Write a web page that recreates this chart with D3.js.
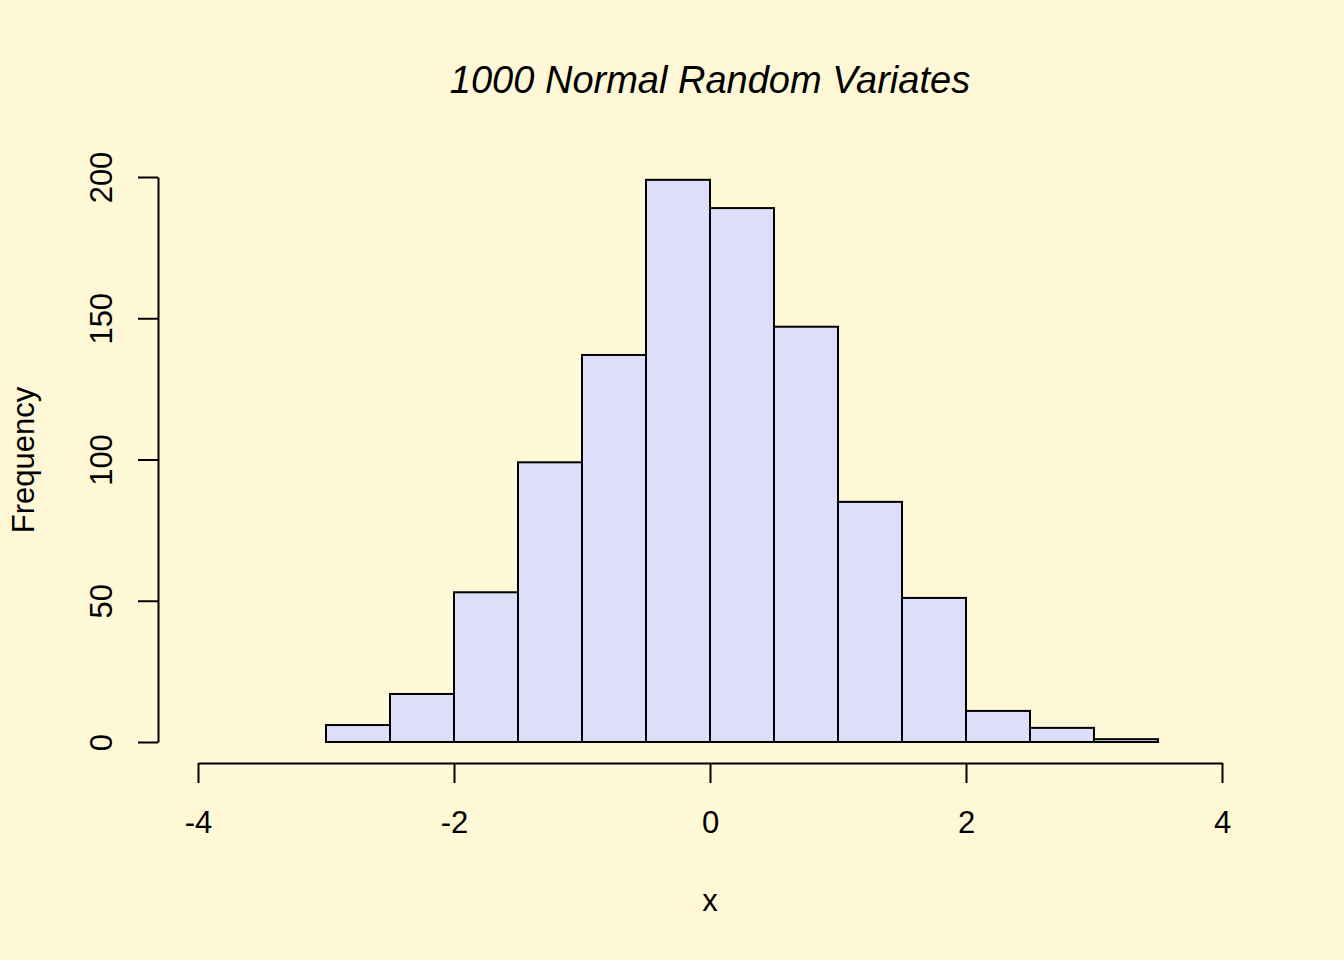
<!DOCTYPE html>
<html>
<head>
<meta charset="utf-8">
<script src="https://cdn.jsdelivr.net/npm/d3@7"></script>
<style>
  html, body { margin: 0; padding: 0; background: #FFF8D7; }
  svg { display: block; }
  text { font-family: "Liberation Sans", Arial, sans-serif; fill: #000; }
</style>
</head>
<body>
<svg id="chart" width="1344" height="960"></svg>
<script>
// Histogram bins (breaks) and counts
const binStarts = [-3, -2.5, -2, -1.5, -1, -0.5, 0, 0.5, 1, 1.5, 2, 2.5, 3];
const binWidth = 0.5;
const counts = [6, 17, 53, 99, 137, 199, 189, 147, 85, 51, 11, 5, 1];
const xTicks = [-4, -2, 0, 2, 4];
const yTicks = [0, 50, 100, 150, 200];
const titleText = "1000 Normal Random Variates";
const xLabel = "x";
const yLabel = "Frequency";

const svg = d3.select("#chart");
svg.append("rect").attr("width", 1344).attr("height", 960).attr("fill", "#FFF8D7");

const x = d3.scaleLinear().domain([-4, 4]).range([198, 1222]);
const y = d3.scaleLinear().domain([0, 200]).range([742, 177]);

const bins = binStarts.map((s, i) => ({ x0: s, x1: s + binWidth, n: counts[i] }));

svg.append("g").selectAll("rect").data(bins).join("rect")
  .attr("x", d => x(d.x0))
  .attr("y", d => y(d.n))
  .attr("width", d => x(d.x1) - x(d.x0))
  .attr("height", d => y(0) - y(d.n))
  .attr("fill", "#DDDEF9")
  .attr("stroke", "#000")
  .attr("stroke-width", 2);

// X axis
const xAxis = svg.append("g").attr("transform", "translate(0,763)")
  .call(d3.axisBottom(x).tickValues(xTicks).tickSizeInner(20).tickSizeOuter(0).tickFormat(d3.format("d")));
xAxis.select(".domain").attr("stroke", "#000").attr("stroke-width", 2);
xAxis.selectAll(".tick line").attr("stroke", "#000").attr("stroke-width", 2);
xAxis.selectAll(".tick text")
  .attr("y", 70).attr("dy", null)
  .style("font-size", "31px")
  .style("font-family", "'Liberation Sans', Arial, sans-serif")
  .text(d => d < 0 ? "-" + Math.abs(d) : String(d));

// Y axis
const yAxis = svg.append("g").attr("transform", "translate(158,0)")
  .call(d3.axisLeft(y).tickValues(yTicks).tickSizeInner(20).tickSizeOuter(0));
yAxis.select(".domain").attr("stroke", "#000").attr("stroke-width", 2);
yAxis.selectAll(".tick line").attr("stroke", "#000").attr("stroke-width", 2);
yAxis.selectAll(".tick text").remove();
yAxis.selectAll(".tick").append("text")
  .attr("transform", "translate(-46,0) rotate(-90)")
  .attr("text-anchor", "middle")
  .style("font-size", "31px")
  .style("font-family", "'Liberation Sans', Arial, sans-serif")
  .attr("fill", "#000")
  .text(d => d);

// Title
svg.append("text")
  .attr("x", 710).attr("y", 93)
  .attr("text-anchor", "middle")
  .style("font-size", "38px")
  .style("font-style", "italic")
  .text(titleText);

// Axis labels
svg.append("text")
  .attr("x", 710).attr("y", 911)
  .attr("text-anchor", "middle")
  .style("font-size", "31px")
  .text(xLabel);

svg.append("text")
  .attr("transform", "translate(34,460) rotate(-90)")
  .attr("text-anchor", "middle")
  .style("font-size", "31px")
  .text(yLabel);
</script>
</body>
</html>
